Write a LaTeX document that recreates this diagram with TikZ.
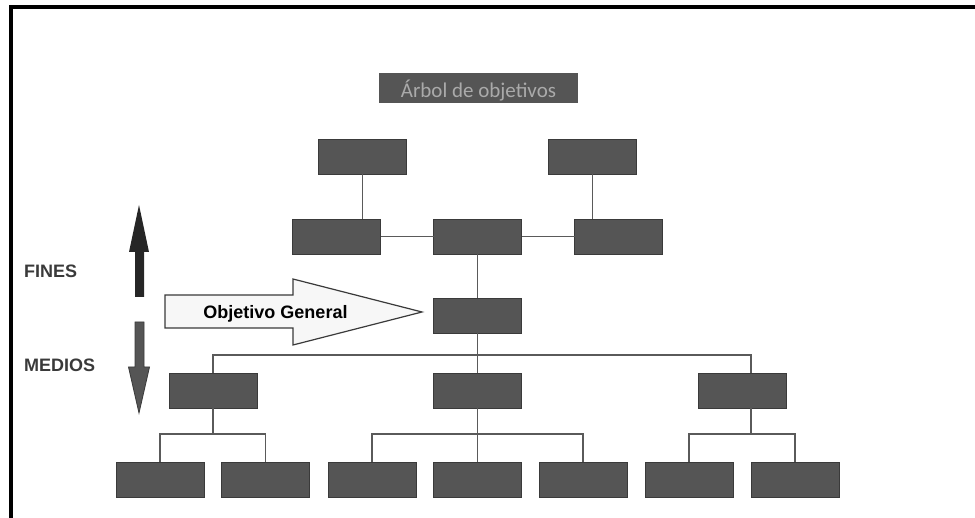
\documentclass[tikz,border=0pt]{standalone}
\usepackage{fontspec}
\setmainfont{Liberation Sans}
\newfontfamily\titlefont{Carlito}
\definecolor{boxfill}{HTML}{555555}
\definecolor{boxedge}{HTML}{3A3A3A}
\definecolor{linkgray}{HTML}{5A5A5A}
\definecolor{labelgray}{HTML}{3A3A3A}
\definecolor{titletext}{HTML}{AAAAAA}
\definecolor{arrowpale}{HTML}{F7F7F7}
\tikzset{
  objbox/.style={rectangle, fill=boxfill, draw=boxedge, line width=0.8pt,
    minimum width=88pt, minimum height=35pt, inner sep=0pt, outer sep=0pt},
  link/.style={draw=linkgray, line width=1.3pt},
  sidelabel/.style={anchor=base west, inner sep=0pt, text=labelgray,
    font=\fontsize{18}{20}\selectfont\bfseries},
}
\begin{document}
\begin{tikzpicture}[x=1pt,y=-1pt]
\useasboundingbox (0,0) rectangle (975,518);
% outer frame
\draw[line width=4pt, line join=miter] (11,518) -- (11,7) -- (975,7);

% title
\node[rectangle, fill=boxfill, minimum width=199pt, minimum height=30pt, inner sep=0pt] (title) at (478.5,88) {};
\node[anchor=base, inner sep=0pt, text=titletext, font=\titlefont\fontsize{21}{24}\selectfont] (titletxt) at (478.5,98) {Árbol de objetivos};

% ends
\node[objbox] (t1) at (362.5,157) {};
\node[objbox] (t2) at (592.5,157) {};
\node[objbox] (e1) at (336.5,236.5) {};
\node[objbox] (e2) at (477.5,236.5) {};
\node[objbox] (e3) at (618.5,236.5) {};
% general objective
\node[objbox] (obj) at (477.5,316) {};
% means
\node[objbox] (m1) at (213,391) {};
\node[objbox] (m2) at (477.5,391) {};
\node[objbox] (m3) at (742.5,391) {};
\node[objbox] (a1) at (160,479.5) {};
\node[objbox] (a2) at (265.5,479.5) {};
\node[objbox] (b1) at (372,479.5) {};
\node[objbox] (b2) at (477.5,479.5) {};
\node[objbox] (b3) at (583,479.5) {};
\node[objbox] (c1) at (689,479.5) {};
\node[objbox] (c2) at (795,479.5) {};

% bus coordinates
\coordinate (busmid) at (477.5,355);
\coordinate (m3top) at ([xshift=8.5pt]m3.north);
\coordinate (m3bot) at ([xshift=8.5pt]m3.south);
\coordinate (busA) at (213,434);
\coordinate (busB) at (477.5,434);
\coordinate (busC) at (751,434);

% upper connectors
\draw[link] (t1.south) -- (t1.south |- e1.north);
\draw[link] (t2.south) -- (t2.south |- e3.north);
\draw[link] (e1.east) -- (e2.west);
\draw[link] (e2.east) -- (e3.west);
\draw[link] (e2.south) -- (obj.north);
\draw[link] (obj.south) -- (m2.north);
\draw[link] (m1.north) |- (busmid) -| (m3top);

% lower connectors
\draw[link] (m1.south) -- (busA);
\draw[link] (a1.north) |- (busA) -| (a2.north);
\draw[link] (m2.south) -- (b2.north);
\draw[link] (b1.north) |- (busB) -| (b3.north);
\draw[link] (m3bot) -- (busC);
\draw[link] (c1.north) |- (busC) -| (c2.north);

% side arrows
\fill[fill=black!85] (139,205) -- (149,252) -- (144,252) -- (144,297) -- (135,297) -- (135,252) -- (129,252) -- cycle;
\filldraw[fill=boxfill, draw=boxedge, line width=0.8pt] (135,322) -- (144,322) -- (144,367) -- (149.5,367) -- (139,413) -- (128.5,367) -- (135,367) -- cycle;

% side labels
\node[sidelabel] (fines) at (24,278) {FINES};
\node[sidelabel] (medios) at (24,372) {MEDIOS};

% general objective arrow
\filldraw[fill=arrowpale, draw=boxedge, line width=1.2pt, line join=miter]
  (165,295) -- (293,295) -- (293,279) -- (422,312) -- (293,345) -- (293,328) -- (165,328) -- cycle;
\node[anchor=base, inner sep=0pt, font=\fontsize{18}{20}\selectfont\bfseries] (objtxt) at (275.5,319) {Objetivo General};
\end{tikzpicture}
\end{document}
